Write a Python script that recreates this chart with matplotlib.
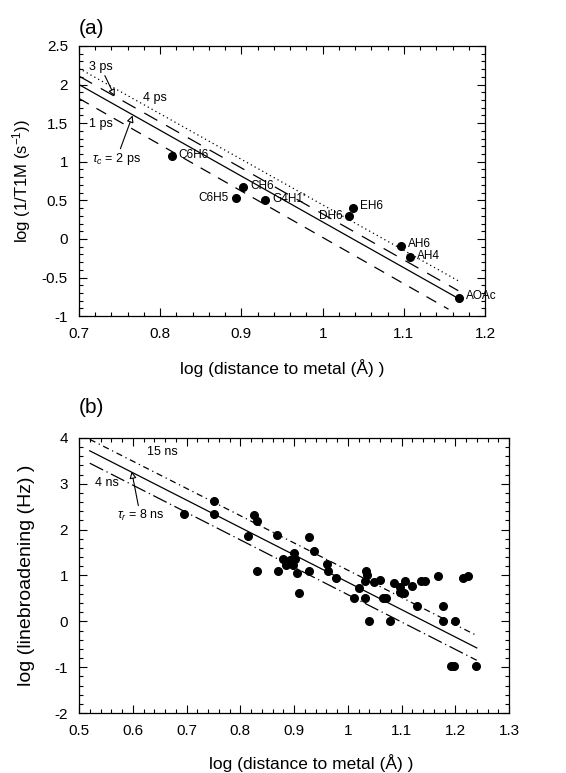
import numpy as np
import matplotlib
matplotlib.use('Agg')
import matplotlib.pyplot as plt
from matplotlib.ticker import MultipleLocator

plt.rcParams['font.family'] = ['Liberation Sans', 'DejaVu Sans']
plt.rcParams['mathtext.fontset'] = 'custom'
plt.rcParams['mathtext.rm'] = 'Liberation Sans'
plt.rcParams['mathtext.it'] = 'Liberation Sans:italic'
plt.rcParams['axes.unicode_minus'] = False

# panel (a): residues, log distance vs log relaxation rate
names_a = ['C6H6', 'CH6', 'C6H5', "G4H1'", 'DH6', 'EH6', 'AH6', 'AH4', 'AOAc']
x_a = [0.814, 0.902, 0.893, 0.929, 1.033, 1.037, 1.097, 1.107, 1.168]
y_a = [1.075, 0.673, 0.535, 0.500, 0.296, 0.405, -0.085, -0.236, -0.763]

# theoretical lines (end points)
tau_c_labels = ['1 ps', '2 ps', '3 ps', '4 ps']
tau_c_x = [[0.70, 1.155], [0.70, 1.167], [0.70, 1.167], [0.70, 1.170]]
tau_c_y = [[1.82, -0.91], [2.00, -0.77], [2.11, -0.67], [2.21, -0.56]]

# panel (b): linebroadening data
x_b = [0.696, 0.752, 0.752, 0.826, 0.831, 0.815, 0.868, 0.928, 0.938, 0.880,
       0.900, 0.893, 0.886, 0.898, 0.901, 0.832, 0.870, 0.906, 0.927, 0.961,
       0.964, 0.978, 1.020, 1.034, 1.036, 1.033, 1.049, 1.060, 1.086, 1.107,
       1.098, 1.119, 1.136, 1.144, 1.167, 1.214, 1.223, 0.909, 1.012, 1.033,
       1.040, 1.079, 1.066, 1.072, 1.128, 1.177, 1.177, 1.200, 1.193, 1.197,
       1.239, 1.098, 1.104]
y_b = [2.34, 2.62, 2.34, 2.31, 2.19, 1.87, 1.89, 1.85, 1.54, 1.37,
       1.48, 1.34, 1.23, 1.23, 1.37, 1.10, 1.10, 1.06, 1.10, 1.25,
       1.10, 0.94, 0.73, 1.10, 1.00, 0.87, 0.86, 0.90, 0.83, 0.88,
       0.75, 0.78, 0.88, 0.88, 0.99, 0.94, 0.99, 0.62, 0.50, 0.50,
       0.01, 0.01, 0.50, 0.50, 0.33, 0.33, 0.01, 0.01, -0.98, -0.98,
       -0.98, 0.64, 0.62]

tau_r_labels = ['4 ns', '8 ns', '15 ns']
tau_r_x = [[0.52, 1.24], [0.52, 1.24], [0.52, 1.24]]
tau_r_y = [[3.45, -0.85], [3.72, -0.58], [3.97, -0.31]]


def style_axes(ax):
    ax.tick_params(which='both', direction='in', top=True, right=True,
                   labelsize=11, width=0.8, pad=8)
    ax.tick_params(which='major', length=6)
    ax.tick_params(which='minor', length=3)
    for s in ax.spines.values():
        s.set_linewidth(0.9)


fig = plt.figure(figsize=(5.66, 7.73), dpi=100)

# ---- (a)
ax1 = fig.add_axes([0.1396, 0.591, 0.7174, 0.3495])
styles_a = [dict(ls=(0, (9, 7))), dict(ls='-'), dict(ls=(0, (12, 8))),
            dict(ls=(0, (1, 2.5)))]
for xs, ys, st in zip(tau_c_x, tau_c_y, styles_a):
    ax1.plot(xs, ys, color='black', lw=0.9, **st)
ax1.plot(x_a, y_a, 'o', color='black', ms=5.5)
offs = {'C6H5': (-5, 0, 'right'), 'DH6': (-5, 0, 'right')}
for n, x, y in zip(names_a, x_a, y_a):
    dx, dy, ha = offs.get(n, (5, 1, 'left'))
    ax1.annotate(n, (x, y), xytext=(dx, dy), textcoords='offset points',
                 ha=ha, va='center', fontsize=8.5)
ax1.set_xlim(0.7, 1.2)
ax1.set_ylim(-1, 2.5)
ax1.xaxis.set_major_locator(MultipleLocator(0.1))
ax1.xaxis.set_minor_locator(MultipleLocator(0.02))
ax1.yaxis.set_major_locator(MultipleLocator(0.5))
ax1.yaxis.set_minor_locator(MultipleLocator(0.1))
ax1.set_xticklabels(['%g' % t for t in ax1.get_xticks()])
ax1.set_yticklabels(['%g' % t for t in ax1.get_yticks()])
style_axes(ax1)
ax1.set_xlabel('log (distance to metal (Å) )', fontsize=12.5, labelpad=13)
ax1.set_ylabel('log (1/T1M (s$^{-1}$))', fontsize=12, labelpad=6)
ax1.text(0.0, 1.03, '(a)', transform=ax1.transAxes, fontsize=15,
         ha='left', va='bottom')

arr = dict(arrowstyle='-|>', fc='white', ec='black', lw=0.8,
           mutation_scale=10, shrinkA=0, shrinkB=0)
ax1.annotate('3 ps', xy=(0.744, 1.85), xytext=(0.712, 2.23), fontsize=9,
             va='center', arrowprops=arr)
ax1.text(0.779, 1.82, '4 ps', fontsize=9, va='center')
ax1.text(0.712, 1.49, '1 ps', fontsize=9, va='center')
ax1.annotate(r'$\tau_c$ = 2 ps', xy=(0.766, 1.60), xytext=(0.716, 1.03),
             fontsize=9, va='center', arrowprops=arr)

# ---- (b)
ax2 = fig.add_axes([0.1396, 0.0776, 0.7597, 0.3558])
styles_b = [dict(ls=(0, (12, 3, 1, 3))), dict(ls='-'),
            dict(ls=(0, (5, 3, 1, 3)))]
for xs, ys, st in zip(tau_r_x, tau_r_y, styles_b):
    ax2.plot(xs, ys, color='black', lw=0.9, **st)
ax2.plot(x_b, y_b, 'o', color='black', ms=5.5)
ax2.set_xlim(0.5, 1.3)
ax2.set_ylim(-2, 4)
ax2.xaxis.set_major_locator(MultipleLocator(0.1))
ax2.xaxis.set_minor_locator(MultipleLocator(0.02))
ax2.yaxis.set_major_locator(MultipleLocator(1))
ax2.yaxis.set_minor_locator(MultipleLocator(0.2))
ax2.set_xticklabels(['%g' % t for t in ax2.get_xticks()])
style_axes(ax2)
ax2.set_xlabel('log (distance to metal (Å) )', fontsize=12.5)
ax2.xaxis.set_label_coords(0.54, -0.15)
ax2.set_ylabel('log (linebroadening (Hz) )', fontsize=14, labelpad=14)
ax2.text(0.0, 1.075, '(b)', transform=ax2.transAxes, fontsize=15,
         ha='left', va='bottom')
ax2.text(0.627, 3.70, '15 ns', fontsize=9, va='center')
ax2.text(0.530, 3.01, '4 ns', fontsize=9, va='center')
ax2.annotate(r'$\tau_r$ = 8 ns', xy=(0.598, 3.27), xytext=(0.570, 2.30),
             fontsize=9, va='center', arrowprops=arr)

fig.savefig('out.png', dpi=100)
